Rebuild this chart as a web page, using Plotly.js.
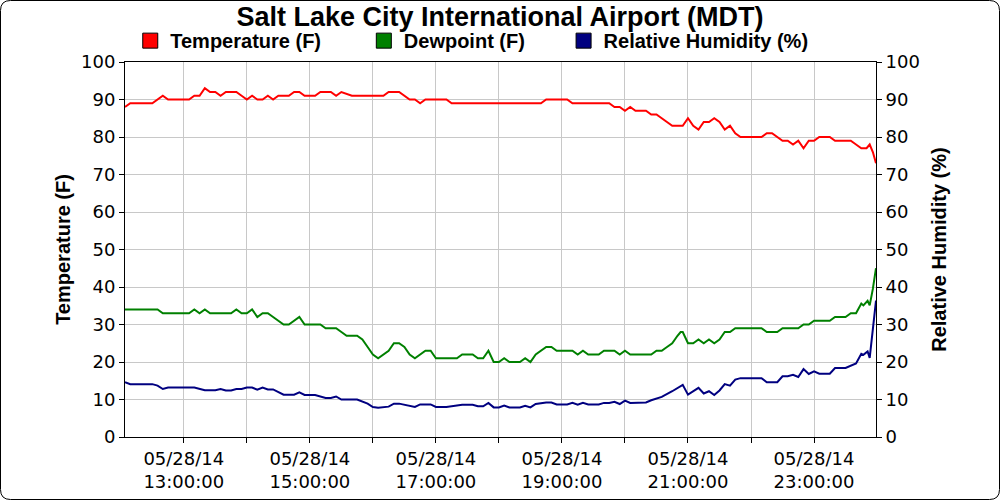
<!DOCTYPE html>
<html>
<head>
<meta charset="utf-8">
<script src="https://cdn.plot.ly/plotly-3.0.1.min.js"></script>
<style>
  body { margin: 0; background: white; }
  #graphDiv { width: 1000px; height: 500px; }
</style>
</head>
<body>
<div id="graphDiv"></div>
<script>
var day = '2014-05-28 ';

// temperature (F)
var tempTime = ['12:04','12:09','12:30','12:40','12:45','13:05','13:10','13:15','13:20','13:25',
                '13:30','13:35','13:40','13:50','13:55','14:00','14:05','14:10','14:15','14:20',
                '14:25','14:30','14:40','14:45','14:50','14:55','15:05','15:10','15:20','15:25',
                '15:30','15:40','16:10','16:15','16:25','16:30','16:35','16:40','16:45','16:50',
                '17:10','17:15','18:40','18:45','19:05','19:10','19:45','19:50','19:55','20:00',
                '20:05','20:10','20:20','20:25','20:30','20:35','20:40','20:45','20:55','21:00',
                '21:05','21:10','21:15','21:20','21:25','21:30','21:35','21:40','21:45','21:50',
                '22:10','22:15','22:20','22:25','22:30','22:35','22:40','22:45','22:50','22:55',
                '23:00','23:05','23:15','23:20','23:35','23:40','23:45','23:50','23:53','23:56',
                '23:59'];
var tempF = [88,89,89,91,90,90,91,91,93,92,
             92,91,92,92,91,90,91,90,90,91,
             90,91,91,92,92,91,91,92,92,91,
             92,91,91,92,92,91,90,90,89,90,
             90,89,89,90,90,89,89,88,88,87,
             88,87,87,86,86,85,84,83,83,85,
             83,82,84,84,85,84,82,83,81,80,
             80,81,81,80,79,79,78,79,77,79,
             79,80,80,79,79,78,77,77,78,76,
             73];

// dewpoint (F)
var dewTime = ['12:04','12:35','12:40','13:05','13:10','13:15','13:20','13:25','13:45','13:50',
               '13:55','14:00','14:05','14:10','14:15','14:20','14:25','14:30','14:35','14:40',
               '14:50','14:55','15:10','15:15','15:25','15:30','15:35','15:45','15:50','15:55',
               '16:00','16:05','16:15','16:20','16:25','16:30','16:35','16:40','16:50','16:55',
               '17:00','17:20','17:25','17:35','17:40','17:45','17:50','17:55','18:00','18:05',
               '18:10','18:20','18:25','18:30','18:35','18:45','18:50','18:55','19:10','19:15',
               '19:20','19:25','19:35','19:40','19:50','19:55','20:00','20:05','20:25','20:30',
               '20:35','20:40','20:45','20:50','20:53','20:55','21:00','21:05','21:10','21:15',
               '21:20','21:25','21:30','21:35','21:40','21:45','22:10','22:15','22:25','22:30',
               '22:45','22:50','22:55','23:00','23:15','23:20','23:30','23:35','23:40','23:45',
               '23:47','23:51','23:53','23:56','23:59'];
var dewF = [34,34,33,33,34,33,34,33,33,34,
            33,33,34,32,33,33,32,31,30,30,
            32,30,30,29,29,28,27,27,26,24,
            22,21,23,25,25,24,22,21,23,23,
            21,21,22,22,21,21,23,20,20,21,
            20,20,21,20,22,24,24,23,23,22,
            23,22,22,23,23,22,23,22,22,23,
            23,24,25,27,28,28,25,25,26,25,
            26,25,26,28,28,29,29,28,28,29,
            29,30,30,31,31,32,32,33,33,35.6,
            35.1,36.3,35.1,39.5,45];

// relative humidity (%)
var rhTime = ['12:04','12:09','12:30','12:35','12:40','12:45','13:10','13:20','13:30','13:35',
              '13:40','13:45','13:50','13:55','14:00','14:05','14:10','14:15','14:20','14:25',
              '14:35','14:45','14:50','14:55','15:05','15:15','15:20','15:25','15:30','15:45',
              '15:55','16:00','16:05','16:15','16:20','16:25','16:40','16:45','16:55','17:00',
              '17:10','17:25','17:35','17:40','17:45','17:50','17:55','18:00','18:05','18:10',
              '18:20','18:25','18:30','18:35','18:45','18:50','18:55','19:05','19:10','19:15',
              '19:20','19:25','19:35','19:40','19:45','19:50','19:55','20:00','20:05','20:20',
              '20:25','20:35','20:45','20:55','21:00','21:10','21:15','21:20','21:25','21:30',
              '21:35','21:40','21:45','21:50','22:10','22:15','22:25','22:30','22:35','22:40',
              '22:45','22:50','22:55','23:00','23:05','23:15','23:20','23:30','23:40','23:45',
              '23:47','23:51','23:53','23:59'];
var rhPct = [14.6,14.1,14.1,13.7,12.8,13.2,13.2,12.5,12.5,12.8,
             12.4,12.4,12.8,12.8,13.2,13.2,12.6,13.2,12.7,12.7,
             11.3,11.3,11.9,11.2,11.2,10.4,10.4,10.8,10.0,10.0,
             8.9,8.0,7.8,8.1,8.9,8.9,8.0,8.7,8.7,8.0,
             8.0,8.6,8.6,8.2,8.2,9.1,7.9,7.9,8.4,7.9,
             7.9,8.3,7.9,8.8,9.2,9.2,8.7,8.7,9.1,8.6,
             9.1,8.7,8.7,9.1,9.1,9.4,8.8,9.7,9.1,9.2,
             9.8,10.7,12.2,13.9,11.3,13.1,11.6,12.2,11.2,12.4,
             14.1,13.7,15.3,15.7,15.7,14.6,14.6,16.2,16.2,16.6,
             16.0,18.1,16.8,17.5,16.9,16.9,18.4,18.4,19.6,22.2,
             21.9,22.8,21.1,36.4];

var seriesNames = ['Temperature (F)', 'Dewpoint (F)', 'Relative Humidity (%)'];
var seriesColors = ['#ff0000', '#008000', '#000080'];

function stamp(list) {
  return list.map(function(t) { return day + t; });
}

var trace1 = {
  type: 'scatter', mode: 'lines', name: seriesNames[0],
  x: stamp(tempTime), y: tempF,
  line: {color: seriesColors[0], width: 2}, showlegend: false
};
var trace2 = {
  type: 'scatter', mode: 'lines', name: seriesNames[1],
  x: stamp(dewTime), y: dewF,
  line: {color: seriesColors[1], width: 2}, showlegend: false
};
var trace3 = {
  type: 'scatter', mode: 'lines', name: seriesNames[2],
  x: stamp(rhTime), y: rhPct, yaxis: 'y2',
  line: {color: seriesColors[2], width: 2}, showlegend: false
};

// square legend keys, one legend each so they can be placed like the original
var legendNames = ['legend', 'legend2', 'legend3'];
var keys = seriesNames.map(function(n, i) {
  return {
    type: 'scatter', mode: 'markers', name: n, x: [null], y: [null],
    legend: legendNames[i], hoverinfo: 'skip',
    marker: {symbol: 'square', size: 15, color: seriesColors[i], line: {color: 'black', width: 1}}
  };
});

var data = [trace1, trace2, trace3].concat(keys);

var boldFont = {family: 'Liberation Sans, Arial, sans-serif', size: 20, weight: 'bold', color: 'black'};
var gridGrey = '#c8c8c8';

function legendAt(x) {
  return {
    x: x, xanchor: 'left', y: 1.057, yanchor: 'middle', orientation: 'h',
    font: boldFont, bgcolor: 'rgba(0,0,0,0)', borderwidth: 0
  };
}

// rounded frame around the whole picture, in paper units
var mL = 125, mR = 124, mT = 62, mB = 63, W = 1000, H = 500;
var pw = W - mL - mR, ph = H - mT - mB;
function px(v) { return (v - mL) / pw; }
function py(v) { return (H - mB - v) / ph; }
var xL = px(0.5), xR = px(W - 0.5), yT = py(0.5), yB = py(H - 0.5);
var rx = 10 / pw, ry = 10 / ph;
var framePath = 'M' + (xL + rx) + ',' + yT + ' L' + (xR - rx) + ',' + yT +
  ' Q' + xR + ',' + yT + ' ' + xR + ',' + (yT - ry) +
  ' L' + xR + ',' + (yB + ry) + ' Q' + xR + ',' + yB + ' ' + (xR - rx) + ',' + yB +
  ' L' + (xL + rx) + ',' + yB + ' Q' + xL + ',' + yB + ' ' + xL + ',' + (yB + ry) +
  ' L' + xL + ',' + (yT - ry) + ' Q' + xL + ',' + yT + ' ' + (xL + rx) + ',' + yT + ' Z';

var yCommon = {
  range: [0, 100], dtick: 10, ticks: 'outside', ticklen: 5, tickcolor: 'black',
  showline: true, linecolor: 'black', linewidth: 1, zeroline: false,
  tickfont: {family: 'DejaVu Sans', size: 18, color: 'black'}
};

var layout = {
  width: W, height: H,
  margin: {l: mL, r: mR, t: mT, b: mB},
  paper_bgcolor: 'white', plot_bgcolor: 'white',
  font: {family: 'DejaVu Sans', size: 18, color: 'black'},
  title: {
    text: 'Salt Lake City International Airport (MDT)',
    font: {family: 'Liberation Sans, Arial, sans-serif', size: 27, weight: 'bold', color: 'black'},
    x: 0.5, xanchor: 'center', yref: 'container', y: 0.966, yanchor: 'middle'
  },
  showlegend: true,
  legend: legendAt(0.007),
  legend2: legendAt(0.318),
  legend3: legendAt(0.584),
  xaxis: {
    type: 'date',
    tick0: day + '13:00', dtick: 7200000,
    tickformat: '%m/%d/%y<br>%H:%M:%S',
    ticks: 'outside', ticklen: 5, tickcolor: 'black',
    showline: true, linecolor: 'black', mirror: true,
    showgrid: true, gridcolor: gridGrey, zeroline: false,
    tickfont: {family: 'DejaVu Sans', size: 18, color: 'black'},
    minor: {dtick: 3600000, tick0: day + '12:00', ticks: 'outside', ticklen: 5,
            tickcolor: 'black', showgrid: true, gridcolor: gridGrey}
  },
  yaxis: Object.assign({}, yCommon, {
    showgrid: true, gridcolor: gridGrey,
    title: {text: 'Temperature (F)', font: boldFont, standoff: 5}
  }),
  yaxis2: Object.assign({}, yCommon, {
    overlaying: 'y', side: 'right', showgrid: false,
    title: {text: 'Relative Humidity (%)', font: boldFont, standoff: 13}
  }),
  shapes: [{
    type: 'path', xref: 'paper', yref: 'paper', path: framePath,
    line: {color: 'black', width: 1}, fillcolor: 'rgba(0,0,0,0)', layer: 'above'
  }]
};

Plotly.newPlot('graphDiv', data, layout, {displayModeBar: false, staticPlot: true});
</script>
</body>
</html>
